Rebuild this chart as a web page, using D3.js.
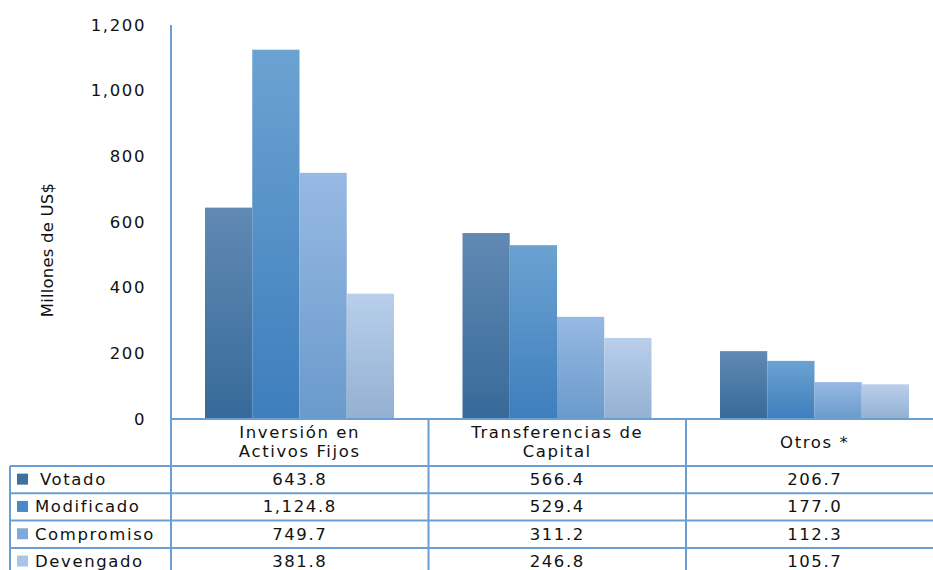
<!DOCTYPE html>
<html><head><meta charset="utf-8">
<script src="https://cdn.jsdelivr.net/npm/d3@7"></script>
<style>
body{margin:0;background:#fff;}
svg{display:block;}
text{font-family:"DejaVu Sans",sans-serif;fill:#111;}
</style></head>
<body>
<svg id="chart" width="933" height="570"></svg>
<script>
const categories = [["Inversión en","Activos Fijos"],["Transferencias de","Capital"],["Otros *"]];
const seriesNames = ["Votado","Modificado","Compromiso","Devengado"];
const votado = [643.8, 566.4, 206.7];
const modificado = [1124.8, 529.4, 177.0];
const compromiso = [749.7, 311.2, 112.3];
const devengado = [381.8, 246.8, 105.7];
const yTicks = [0,200,400,600,800,1000,1200];

const series = [votado, modificado, compromiso, devengado];
const gradStops = [["#6189b4","#376a99"],["#6ba2d1","#3e7ebd"],["#97b9e3","#6a9acb"],["#b9cfeb","#93b0d2"]];
const keyColors = ["#3e70a2","#4a89c6","#7fa9dc","#aac4e5"];
const lineColor = "#6a9fd4";
const FS = "16.5px", LS = "1.6px";

const svg = d3.select("#chart");
const defs = svg.append("defs");
gradStops.forEach((s,i)=>{
  const g = defs.append("linearGradient").attr("id","g"+i).attr("x1",0).attr("y1",0).attr("x2",0).attr("y2",1);
  g.append("stop").attr("offset","0%").attr("stop-color",s[0]);
  g.append("stop").attr("offset","100%").attr("stop-color",s[1]);
});

const left = 171, catW = 257.5;
const x0 = d3.scaleBand().domain(d3.range(categories.length)).range([left, left+catW*categories.length]).padding(0);
const x1 = d3.scaleBand().domain(d3.range(seriesNames.length)).range([34, 223]).padding(0);
const y = d3.scaleLinear().domain([0,1200]).range([419,25]);

// bars
series.forEach((vals,si)=>{
  svg.append("g").selectAll("rect").data(vals).join("rect")
    .attr("x",(d,ci)=>x0(ci)+x1(si))
    .attr("y",d=>y(d))
    .attr("width",x1.bandwidth())
    .attr("height",d=>y(0)-y(d))
    .attr("fill","url(#g"+si+")");
});

// y axis
const yAxis = d3.axisLeft(y).tickValues(yTicks).tickSize(0).tickPadding(25).tickFormat(d3.format(","));
const ga = svg.append("g").attr("transform",`translate(${left},0)`).call(yAxis);
ga.select(".domain").remove();
ga.selectAll("text").style("font-family","DejaVu Sans").style("font-size",FS).attr("fill","#111").style("letter-spacing",LS);

svg.append("text").attr("transform","translate(53,250) rotate(-90)").attr("text-anchor","middle")
  .style("font-size",FS).style("letter-spacing","0.2px").text("Millones de  US$");

// table lines
const rowTop = 466, rowH = 27.3;
const right = 933;
const lines = svg.append("g").attr("stroke",lineColor).attr("stroke-width",2);
lines.append("line").attr("x1",left).attr("x2",left).attr("y1",25).attr("y2",570);
lines.append("line").attr("x1",left).attr("x2",right).attr("y1",y(0)).attr("y2",y(0));
d3.range(1,categories.length).forEach(ci=>{
  lines.append("line").attr("x1",x0(ci)).attr("x2",x0(ci)).attr("y1",y(0)).attr("y2",570);
});
lines.append("line").attr("x1",10).attr("x2",10).attr("y1",rowTop).attr("y2",570);
d3.range(seriesNames.length).forEach(r=>{
  lines.append("line").attr("x1",10).attr("x2",right).attr("y1",rowTop+r*rowH).attr("y2",rowTop+r*rowH);
});

// header
categories.forEach((lab,ci)=>{
  const cx = x0(ci)+catW/2;
  const t = svg.append("text").attr("text-anchor","middle").style("font-size",FS).style("letter-spacing",LS);
  const startY = lab.length===1 ? 448 : 438;
  lab.forEach((l,li)=>t.append("tspan").attr("x",cx).attr("y",startY+li*19).text(l));
});

// rows
series.forEach((vals,si)=>{
  const cy = rowTop+si*rowH+rowH/2+5.5;
  svg.append("rect").attr("x",17).attr("y",cy-11.5).attr("width",11).attr("height",11).attr("fill",keyColors[si]);
  svg.append("text").attr("x",si===0?40:35).attr("y",cy).style("font-size",FS).style("letter-spacing",LS).text(seriesNames[si]);
  vals.forEach((v,ci)=>{
    svg.append("text").attr("x",x0(ci)+catW/2).attr("y",cy).attr("text-anchor","middle")
      .style("font-size",FS).style("letter-spacing",LS).text(d3.format(",.1f")(v));
  });
});
</script>
</body></html>
